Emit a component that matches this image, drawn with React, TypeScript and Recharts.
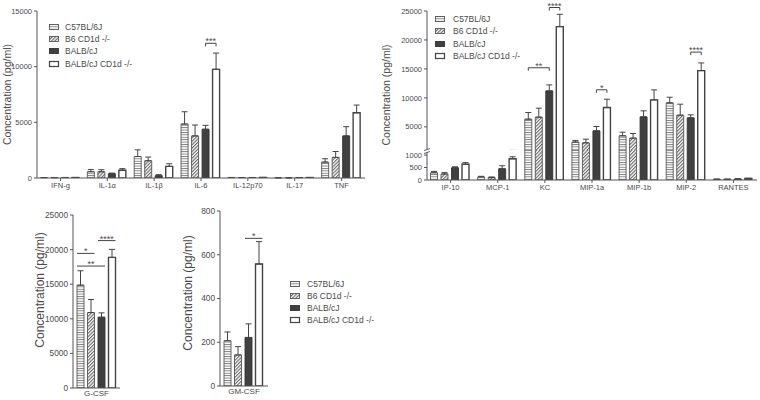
import React from 'react';
import { BarChart, Bar, XAxis, YAxis, ErrorBar, LabelList } from 'recharts';

const groups = ['C57BL/6J', 'B6 CD1d -/-', 'BALB/cJ', 'BALB/cJ CD1d -/-'];

// panel A: inflammatory cytokines
const catsA = ['IFN-g', 'IL-1\u03b1', 'IL-1\u03b2', 'IL-6', 'IL-12p70', 'IL-17', 'TNF'];
const c57A = [30, 565, 1930, 4850, 40, 10, 1430];
const c57ErrA = [10, 200, 600, 1100, 10, 5, 300];
const b6A = [25, 565, 1550, 3780, 35, 10, 1850];
const b6ErrA = [10, 180, 330, 980, 10, 5, 530];
const balbA = [40, 390, 210, 4380, 40, 30, 3780];
const balbErrA = [10, 50, 90, 350, 10, 10, 830];
const koA = [40, 690, 1040, 9760, 45, 40, 5860];
const koErrA = [10, 150, 240, 1460, 10, 10, 690];

// panel B: chemokines (broken axis)
const catsB = ['IP-10', 'MCP-1', 'KC', 'MIP-1a', 'MIP-1b', 'MIP-2', 'RANTES'];
const c57B = [290, 120, 6320, 2360, 3450, 9140, 30];
const c57ErrB = [55, 27, 1150, 290, 630, 970, 5];
const b6B = [240, 95, 6670, 2240, 3050, 7010, 30];
const b6ErrB = [55, 27, 1550, 630, 800, 1900, 5];
const balbB = [490, 450, 11200, 4310, 6720, 6550, 40];
const balbErrB = [40, 120, 1040, 750, 1040, 520, 8];
const koB = [630, 850, 22300, 8330, 9660, 14710, 60];
const koErrB = [65, 80, 2130, 1440, 1720, 1320, 10];

// panels C and D
const catsC = ['G-CSF'];
const valsC = [14860, 10900, 10230, 18870];
const errsC = [2080, 1890, 630, 1160];
const catsD = ['GM-CSF'];
const valsD = [207, 142, 222, 558];
const errsD = [40, 38, 62, 102];

const ticksA = [0, 5000, 10000, 15000];
const ticksBHigh = [5000, 10000, 15000, 20000, 25000];
const ticksBLow = [0, 500, 1000];
const ticksC = [0, 5000, 10000, 15000, 20000, 25000];
const ticksD = [0, 200, 400, 600, 800];

type Sig = { cat: number; from: number; to: number; level: number; text: string };
const sigA: Sig[] = [{ cat: 3, from: 2, to: 3, level: 12100, text: '***' }];
const sigB: Sig[] = [
  { cat: 2, from: 0, to: 2, level: 15200, text: '**' },
  { cat: 2, from: 2, to: 3, level: 25600, text: '****' },
  { cat: 3, from: 2, to: 3, level: 11400, text: '*' },
  { cat: 5, from: 2, to: 3, level: 17900, text: '****' },
];
const sigC: Sig[] = [
  { cat: 0, from: 0, to: 1, level: 19450, text: '*' },
  { cat: 0, from: 0, to: 2, level: 17620, text: '**' },
  { cat: 0, from: 2, to: 3, level: 21300, text: '****' },
];
const sigD: Sig[] = [{ cat: 0, from: 2, to: 3, level: 675, text: '*' }];

const FONT = '"Liberation Sans", Arial, sans-serif';
const INK = '#4a4a4a';
const AX = '#555';
const fills = ['url(#pStripe)', 'url(#pHatch)', '#404040', '#ffffff'];
const strokes = ['#555', '#555', '#333', '#444'];
const strokeW = [0.9, 0.9, 0.9, 1.4];

// upper segment of the broken axis: 1000 sits 5px above the (hidden) plot floor
const UPPER_FLOOR = 1000 - (5 * 24000) / 139;

function rowsOf(cats: string[], series: number[][], errs: number[][]) {
  return cats.map((c, i) => {
    const row: any = { cat: c };
    series.forEach((s, k) => {
      row['v' + k] = s[i];
      row['e' + k] = [0, errs[k][i]];
    });
    return row;
  });
}

const dataA = rowsOf(catsA, [c57A, b6A, balbA, koA], [c57ErrA, b6ErrA, balbErrA, koErrA]);
const dataB = rowsOf(catsB, [c57B, b6B, balbB, koB], [c57ErrB, b6ErrB, balbErrB, koErrB]);
const dataC = rowsOf(catsC, valsC.map((v) => [v]), errsC.map((e) => [e]));
const dataD = rowsOf(catsD, valsD.map((v) => [v]), errsD.map((e) => [e]));

// draws brackets / lines over the bars, positioned from the bar geometry
function sigContent(sigs: Sig[], series: number, base: number, gap: number, kind: 'bracket' | 'line') {
  return (p: any) => {
    const s = sigs.find((q) => q.cat === p.index && q.to === series);
    if (!s) return null;
    const vb = p.viewBox || p;
    const x = Number(vb.x), y = Number(vb.y), w = Number(vb.width), h = Number(vb.height);
    const value = Array.isArray(p.value) ? p.value[1] : Number(p.value);
    const bottom = y + h;
    const py = bottom - ((s.level - base) / (value - base)) * h;
    const stride = w + gap;
    let x1: number, x2: number;
    if (kind === 'bracket') {
      x1 = x + w / 2 - (s.to - s.from) * stride;
      x2 = x + w / 2;
    } else {
      x1 = x - (s.to - s.from) * stride;
      x2 = x + w;
    }
    const tick = kind === 'bracket' ? 3 : 0;
    return (
      <g>
        <path d={`M${x1},${py + tick}V${py}H${x2}V${py + tick}`} fill="none" stroke="#444" strokeWidth={1} />
        <text x={(x1 + x2) / 2} y={py + 1} textAnchor="middle" fontSize={9} fill={INK} fontFamily={FONT}>
          {s.text}
        </text>
      </g>
    );
  };
}

function yLabel(xOff: number, dy: number, fs: number) {
  return (p: any) => {
    const vb = p.viewBox || { x: 0, y: 0, height: 0 };
    const cx = vb.x + xOff;
    const cy = vb.y + vb.height / 2 + dy;
    return (
      <text x={cx} y={cy} transform={`rotate(-90 ${cx} ${cy})`} textAnchor="middle" dominantBaseline="central"
        fontSize={fs} fill={INK} fontFamily={FONT}>
        Concentration (pg/ml)
      </text>
    );
  };
}

function bars(gap: number, sigs: Sig[] | null, base: number, kind: 'bracket' | 'line') {
  return groups.map((g, k) => (
    <Bar key={g} dataKey={'v' + k} name={g} fill={fills[k]} stroke={strokes[k]} strokeWidth={strokeW[k]}
      isAnimationActive={false}>
      <ErrorBar dataKey={'e' + k} width={3} stroke="#444" strokeWidth={1} direction="y" />
      {sigs ? <LabelList dataKey={'v' + k} content={sigContent(sigs, k, base, gap, kind)} /> : null}
    </Bar>
  ));
}

function KeyBox({ left, top, rowH, textGap }: { left: number; top: number; rowH: number; textGap: number }) {
  return (
    <div style={{ position: 'absolute', left, top, fontSize: 8.5, color: INK, fontFamily: FONT }}>
      {groups.map((g, k) => (
        <div key={g} style={{ display: 'flex', alignItems: 'center', height: rowH, whiteSpace: 'nowrap' }}>
          <svg width={10} height={6} style={{ marginRight: textGap, overflow: 'visible' }}>
            <rect x={0.5} y={0.5} width={9} height={5} fill={fills[k]} stroke={strokes[k]}
              strokeWidth={k === 3 ? 1.2 : 0.9} />
          </svg>
          <span>{g}</span>
        </div>
      ))}
    </div>
  );
}

const tickStyle = (fs: number) => ({ fontSize: fs, fill: INK, fontFamily: FONT });

export default function App() {
  const gap = 3.5;
  return (
    <div style={{ position: 'absolute', left: 0, top: 0, width: 760, height: 400, background: '#fff', fontFamily: FONT }}>
      <svg width={0} height={0} style={{ position: 'absolute' }}>
        <defs>
          <pattern id="pStripe" width={4} height={2.4} patternUnits="userSpaceOnUse">
            <rect width={4} height={2.4} fill="#fff" />
            <rect width={4} height={0.9} fill="#7a7a7a" />
          </pattern>
          <pattern id="pHatch" width={2.4} height={2.4} patternUnits="userSpaceOnUse" patternTransform="rotate(45)">
            <rect width={2.4} height={2.4} fill="#fff" />
            <rect width={1.1} height={2.4} fill="#666" />
          </pattern>
        </defs>
      </svg>

      {/* panel A */}
      <div style={{ position: 'absolute', left: 0, top: 0 }}>
        <BarChart width={372} height={200} data={dataA} margin={{ top: 11, right: 7, left: 0, bottom: 0 }}
          barCategoryGap={3.5} barGap={gap}>
          <XAxis dataKey="cat" interval={0} height={22} tickSize={3} tick={tickStyle(7.5)}
            axisLine={{ stroke: AX }} tickLine={{ stroke: AX }} />
          <YAxis width={37} domain={[0, 15000]} ticks={ticksA} interval={0} allowDataOverflow tickSize={3}
            tick={tickStyle(7.5)} axisLine={{ stroke: AX }} tickLine={{ stroke: AX }} label={{ content: yLabel(7, 0, 10.5) } as any} />
          {bars(gap, sigA, 0, 'bracket')}
        </BarChart>
      </div>
      <KeyBox left={49} top={21} rowH={12.2} textGap={6} />

      {/* panel B upper segment (floor hidden under the div edge) */}
      <div style={{ position: 'absolute', left: 380, top: 0, width: 380, height: 150, overflow: 'hidden' }}>
        <BarChart width={380} height={155} data={dataB} margin={{ top: 11, right: 3, left: 0, bottom: 0 }}
          barCategoryGap={3.5} barGap={gap}>
          <XAxis dataKey="cat" hide />
          <YAxis width={47} domain={[UPPER_FLOOR, 25000]} ticks={ticksBHigh} interval={0} allowDataOverflow tickSize={3}
            tick={tickStyle(7.5)} axisLine={{ stroke: AX }} tickLine={{ stroke: AX }} label={{ content: yLabel(6, 12, 10.5) } as any} />
          {bars(gap, sigB, UPPER_FLOOR, 'bracket')}
        </BarChart>
      </div>
      {/* panel B lower segment */}
      <div style={{ position: 'absolute', left: 380, top: 150 }}>
        <BarChart width={380} height={50} data={dataB} margin={{ top: 0, right: 3, left: 0, bottom: 0 }}
          barCategoryGap={3.5} barGap={gap}>
          <XAxis dataKey="cat" interval={0} height={20} tickSize={3} tick={tickStyle(7.5)}
            axisLine={{ stroke: AX }} tickLine={{ stroke: AX }} />
          <YAxis width={47} domain={[0, 1200]} ticks={ticksBLow} interval={0} allowDataOverflow tickSize={3}
            tick={tickStyle(7.5)} axisLine={{ stroke: AX }} tickLine={{ stroke: AX }} />
          {bars(gap, null, 0, 'bracket')}
        </BarChart>
      </div>
      <svg width={12} height={8} style={{ position: 'absolute', left: 421, top: 147 }}>
        <rect x={3} y={2.5} width={6} height={3} fill="#fff" />
        <line x1={3} y1={3.5} x2={9} y2={1.5} stroke={AX} strokeWidth={0.9} />
        <line x1={3} y1={6.5} x2={9} y2={4.5} stroke={AX} strokeWidth={0.9} />
      </svg>
      <KeyBox left={435} top={12.5} rowH={12.5} textGap={8} />

      {/* panel C */}
      <div style={{ position: 'absolute', left: 0, top: 200 }}>
        <BarChart width={125} height={200} data={dataC} margin={{ top: 15, right: 5, left: 0, bottom: 0 }}
          barCategoryGap={4} barGap={gap}>
          <XAxis dataKey="cat" interval={0} height={12} tickSize={0} tick={tickStyle(8)}
            axisLine={{ stroke: AX }} tickLine={false} />
          <YAxis width={73} domain={[0, 25000]} ticks={ticksC} interval={0} allowDataOverflow tickSize={3}
            tick={tickStyle(8.3)} axisLine={{ stroke: AX }} tickLine={{ stroke: AX }} label={{ content: yLabel(40, -11.5, 12) } as any} />
          {bars(gap, sigC, 0, 'line')}
        </BarChart>
      </div>

      {/* panel D */}
      <div style={{ position: 'absolute', left: 140, top: 200 }}>
        <BarChart width={130} height={200} data={dataD} margin={{ top: 11, right: 2, left: 0, bottom: 0 }}
          barCategoryGap={4} barGap={gap}>
          <XAxis dataKey="cat" interval={0} height={14} tickSize={0} tick={tickStyle(8)}
            axisLine={{ stroke: AX }} tickLine={false} />
          <YAxis width={80} domain={[0, 800]} ticks={ticksD} interval={0} allowDataOverflow tickSize={3}
            tick={tickStyle(8.3)} axisLine={{ stroke: AX }} tickLine={{ stroke: AX }} label={{ content: yLabel(48, -5.5, 12) } as any} />
          {bars(gap, sigD, 0, 'line')}
        </BarChart>
      </div>
      <KeyBox left={290} top={278} rowH={12} textGap={7} />
    </div>
  );
}
